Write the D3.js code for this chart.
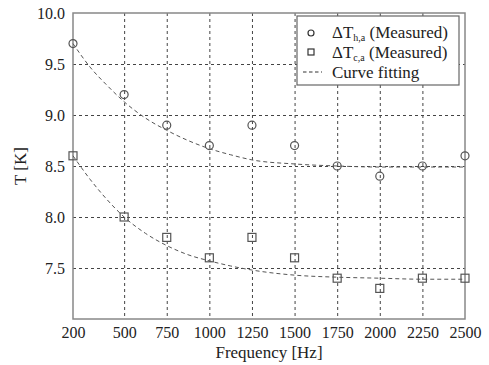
<!DOCTYPE html>
<html>
<head>
<meta charset="utf-8">
<script src="https://cdn.jsdelivr.net/npm/d3@7"></script>
<style>
  body { margin: 0; background: #fff; }
  svg, svg text { font-family: "Liberation Serif", "Times New Roman", Times, "DejaVu Serif", serif !important; fill: #222; }
</style>
</head>
<body>
<svg id="graph" width="489" height="365"></svg>
<script>
// Data

var freqs = [200, 500, 750, 1000, 1250, 1500, 1750, 2000, 2250, 2500];
var hotMeasured  = [9.7, 9.2, 8.9, 8.7, 8.9, 8.7, 8.5, 8.4, 8.5, 8.6];
var coldMeasured = [8.6, 8.0, 7.8, 7.6, 7.8, 7.6, 7.4, 7.3, 7.4, 7.4];

var fitFreqs = [200, 300, 400, 500, 625, 750, 875, 1000, 1125, 1250, 1500, 1750, 2000, 2250, 2500];
var hotFit   = [9.70, 9.47, 9.29, 9.13, 8.97, 8.85, 8.75, 8.67, 8.61, 8.56, 8.52, 8.50, 8.49, 8.49, 8.49];
var coldFit  = [8.60, 8.37, 8.17, 8.00, 7.84, 7.72, 7.63, 7.57, 7.52, 7.48, 7.43, 7.41, 7.40, 7.39, 7.39];

var yTicks = [7.5, 8.0, 8.5, 9.0, 9.5, 10.0];

/*******************************************************************************************/

var FONT = '"Liberation Serif", "Times New Roman", serif';
var margin = { left: 73, right: 24, top: 13, bottom: 46 };
var svg = d3.select('#graph');
var width = 489 - margin.left - margin.right;
var height = 365 - margin.top - margin.bottom;

var xScale = d3.scaleLinear().domain([200, 2500]).range([0, width]);
var yScale = d3.scaleLinear().domain([7, 10]).range([height, 0]);

var origin = svg.append('g').attr('transform', 'translate(' + margin.left + ',' + margin.top + ')');

// grid
origin.append('g').attr('class', 'grid')
  .call(d3.axisBottom(xScale).tickValues(freqs.slice(1, -1)).tickSize(height).tickFormat(''))
  .call(g => g.select('.domain').remove());
origin.append('g').attr('class', 'grid')
  .call(d3.axisLeft(yScale).tickValues(yTicks.slice(0, -1)).tickSize(-width).tickFormat(''))
  .call(g => g.select('.domain').remove());
origin.selectAll('.grid line').attr('stroke', '#444').attr('stroke-width', 1).attr('stroke-dasharray', '3,3');

// frame
origin.append('rect').attr('x', 0).attr('y', 0).attr('width', width).attr('height', height)
  .attr('fill', 'none').attr('stroke', '#888').attr('stroke-width', 1.5);

// tick labels
var xAxis = origin.append('g').attr('transform', 'translate(0,' + height + ')')
  .call(d3.axisBottom(xScale).tickValues(freqs).tickSize(0).tickPadding(8).tickFormat(d3.format('d')));
var yAxis = origin.append('g')
  .call(d3.axisLeft(yScale).tickValues(yTicks).tickSize(0).tickPadding(8).tickFormat(d3.format('.1f')));
[xAxis, yAxis].forEach(a => {
  a.attr('font-family', FONT).attr('font-size', 16);
  a.select('.domain').remove();
  a.selectAll('text').attr('fill', '#222');
});

// axis titles
origin.append('text').attr('x', width / 2).attr('y', height + 39).attr('font-family', FONT)
  .attr('text-anchor', 'middle').attr('font-size', 17).text('Frequency [Hz]');
origin.append('text').attr('transform', 'translate(' + (-47) + ',' + (height / 2) + ') rotate(-90)')
  .attr('font-family', FONT).attr('text-anchor', 'middle').attr('font-size', 17).text('T [K]');

// fitted curves
var lineGen = d3.line().x(d => xScale(d[0])).y(d => yScale(d[1])).curve(d3.curveMonotoneX);
[hotFit, coldFit].forEach(vals => {
  origin.append('path').attr('d', lineGen(fitFreqs.map((f, i) => [f, vals[i]])))
    .attr('fill', 'none').attr('stroke', '#555').attr('stroke-width', 1).attr('stroke-dasharray', '4,3');
});

// measured points
origin.selectAll('.hot').data(hotMeasured).enter().append('circle')
  .attr('cx', (d, i) => xScale(freqs[i])).attr('cy', d => yScale(d)).attr('r', 4)
  .attr('fill', 'none').attr('stroke', '#555').attr('stroke-width', 1.2);
origin.selectAll('.cold').data(coldMeasured).enter().append('rect')
  .attr('x', (d, i) => xScale(freqs[i]) - 4).attr('y', d => yScale(d) - 4).attr('width', 8).attr('height', 8)
  .attr('fill', 'none').attr('stroke', '#555').attr('stroke-width', 1.2);

/*******************************************************************************************/
// legend

var legend = svg.append('g').attr('transform', 'translate(297,16)').attr('font-family', FONT);
legend.append('rect').attr('width', 162).attr('height', 69)
  .attr('fill', '#fff').attr('stroke', '#666').attr('stroke-width', 1.2);

legend.append('circle').attr('cx', 14).attr('cy', 17).attr('r', 3)
  .attr('fill', 'none').attr('stroke', '#333').attr('stroke-width', 1.2);
legend.append('rect').attr('x', 11).attr('y', 33).attr('width', 6).attr('height', 6)
  .attr('fill', 'none').attr('stroke', '#333').attr('stroke-width', 1.2);
legend.append('line').attr('x1', 6).attr('x2', 25).attr('y1', 56).attr('y2', 56)
  .attr('stroke', '#333').attr('stroke-width', 1).attr('stroke-dasharray', '3.5,2.5');

var labels = [['h,a', 22], ['c,a', 42]];
labels.forEach(l => {
  var t = legend.append('text').attr('x', 35).attr('y', l[1]).attr('font-size', 17);
  t.append('tspan').text('\u0394T');
  t.append('tspan').attr('font-size', 10).attr('dy', 3).text(l[0]);
  t.append('tspan').attr('dy', -3).text(' (Measured)');
});
legend.append('text').attr('x', 35).attr('y', 62).attr('font-size', 17).text('Curve fitting');
</script>
</body>
</html>
